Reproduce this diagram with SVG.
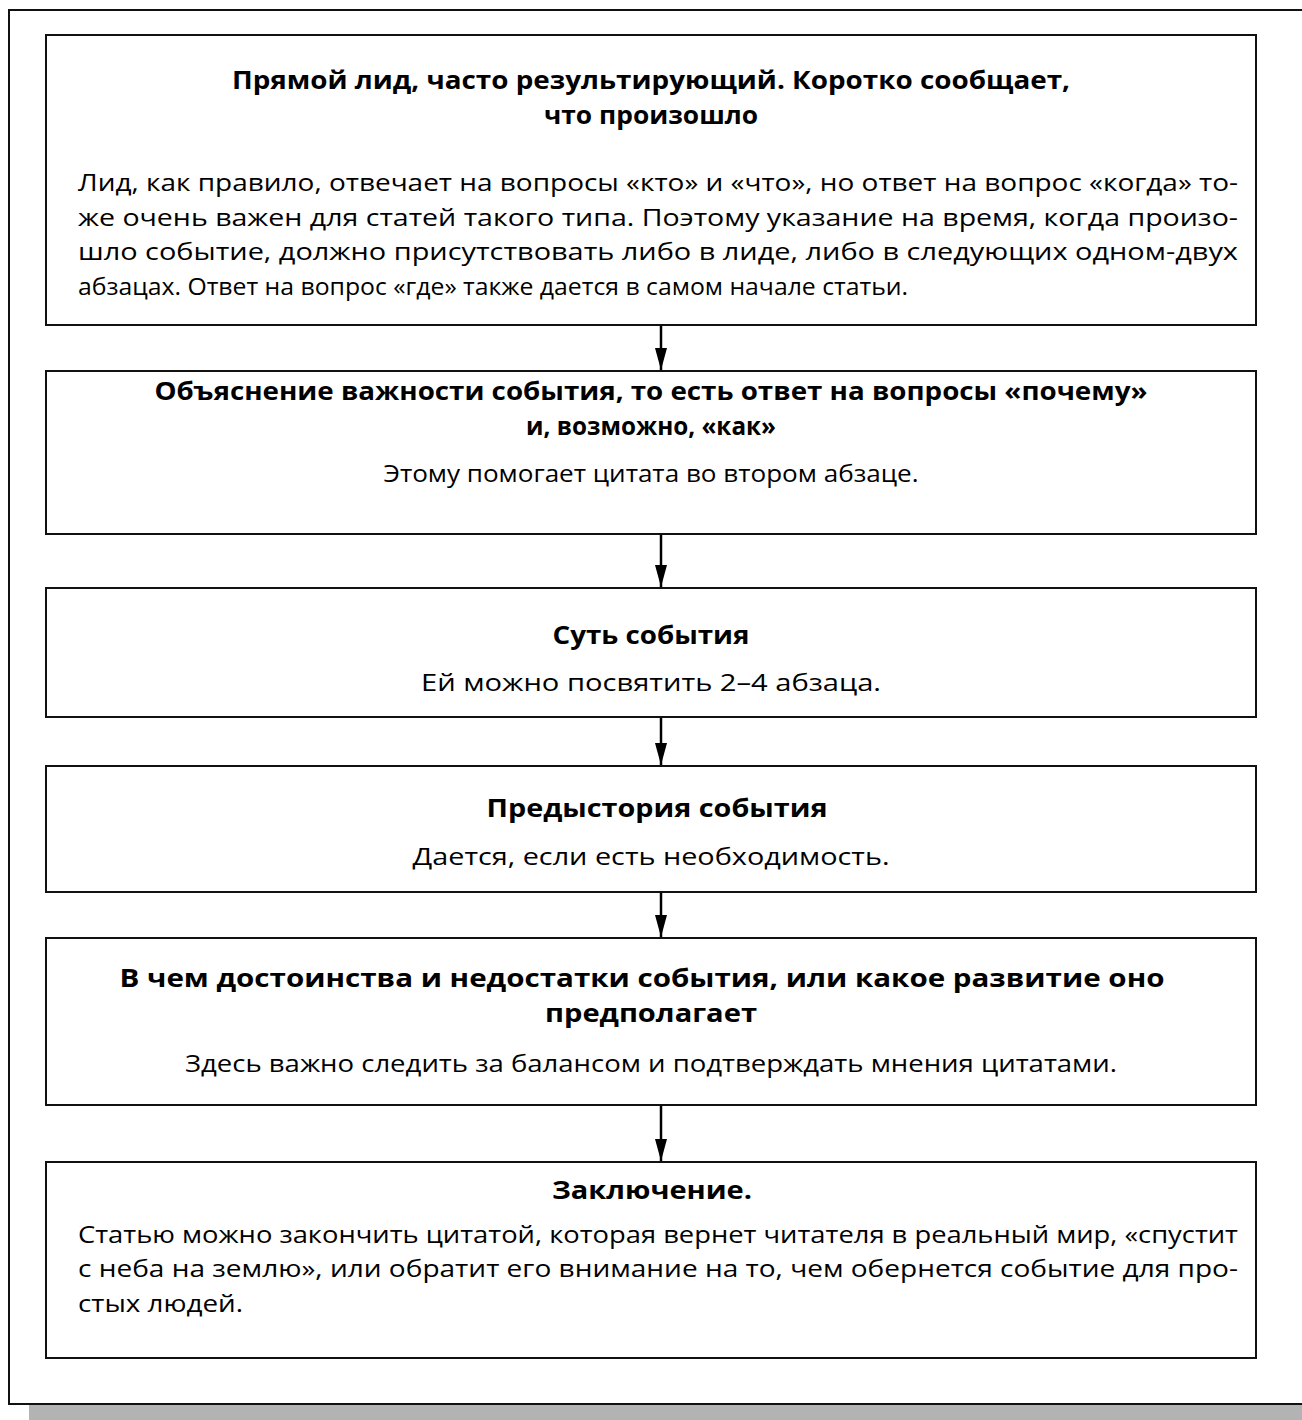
<svg xmlns="http://www.w3.org/2000/svg" width="1302" height="1420" viewBox="0 0 1302 1420">
<defs>
<style>
.box{fill:#fff;stroke:#111;stroke-width:2}
.t{font-family:"Open Sans","Liberation Sans",sans-serif;font-weight:bold;font-size:25px;fill:#000;text-anchor:middle}
.b{font-family:"Open Sans","Liberation Sans",sans-serif;font-size:24px;fill:#000}
.c{text-anchor:middle}
.conn{stroke:#000;stroke-width:2.5;fill:none}
</style>
<marker id="ah" viewBox="0 0 22 14" refX="22" refY="7" markerWidth="22" markerHeight="14" markerUnits="userSpaceOnUse" orient="auto">
<path d="M0,1 L22,7 L0,13 Z" fill="#000"/>
</marker>
</defs>
<rect x="0" y="0" width="1302" height="1420" fill="#fff"/>
<rect x="29" y="1405" width="1280" height="20" fill="#b3b3b3"/>
<rect x="9" y="10" width="1300" height="1394" fill="#fff" stroke="#111" stroke-width="2"/>
<g id="n1">
<rect class="box" x="46" y="35" width="1210" height="290"/>
<text class="t" x="651" y="89" textLength="838" lengthAdjust="spacingAndGlyphs">Прямой лид, часто результирующий. Коротко сообщает,</text>
<text class="t" x="651" y="124" textLength="214" lengthAdjust="spacingAndGlyphs">что произошло</text>
<text class="b" x="78" y="191" textLength="1160" lengthAdjust="spacingAndGlyphs">Лид, как правило, отвечает на вопросы «кто» и «что», но ответ на вопрос «когда» то-</text>
<text class="b" x="78" y="226" textLength="1160" lengthAdjust="spacingAndGlyphs">же очень важен для статей такого типа. Поэтому указание на время, когда произо-</text>
<text class="b" x="78" y="260" textLength="1160" lengthAdjust="spacingAndGlyphs">шло событие, должно присутствовать либо в лиде, либо в следующих одном-двух</text>
<text class="b" x="78" y="295" textLength="830" lengthAdjust="spacingAndGlyphs">абзацах. Ответ на вопрос «где» также дается в самом начале статьи.</text>
</g>
<g id="n2">
<rect class="box" x="46" y="371" width="1210" height="163"/>
<text class="t" x="651" y="400" textLength="993" lengthAdjust="spacingAndGlyphs">Объяснение важности события, то есть ответ на вопросы «почему»</text>
<text class="t" x="651" y="435" textLength="250" lengthAdjust="spacingAndGlyphs">и, возможно, «как»</text>
<text class="b c" x="651" y="482" textLength="535" lengthAdjust="spacingAndGlyphs">Этому помогает цитата во втором абзаце.</text>
</g>
<g id="n3">
<rect class="box" x="46" y="588" width="1210" height="129"/>
<text class="t" x="651" y="644" textLength="197" lengthAdjust="spacingAndGlyphs">Суть события</text>
<text class="b c" x="651" y="691" textLength="460" lengthAdjust="spacingAndGlyphs">Ей можно посвятить 2–4 абзаца.</text>
</g>
<g id="n4">
<rect class="box" x="46" y="766" width="1210" height="126"/>
<text class="t" x="657" y="817" textLength="341" lengthAdjust="spacingAndGlyphs">Предыстория события</text>
<text class="b c" x="651" y="865" textLength="477" lengthAdjust="spacingAndGlyphs">Дается, если есть необходимость.</text>
</g>
<g id="n5">
<rect class="box" x="46" y="938" width="1210" height="167"/>
<text class="t" x="642" y="987" textLength="1045" lengthAdjust="spacingAndGlyphs">В чем достоинства и недостатки события, или какое развитие оно</text>
<text class="t" x="651" y="1022" textLength="212" lengthAdjust="spacingAndGlyphs">предполагает</text>
<text class="b c" x="651" y="1072" textLength="932" lengthAdjust="spacingAndGlyphs">Здесь важно следить за балансом и подтверждать мнения цитатами.</text>
</g>
<g id="n6">
<rect class="box" x="46" y="1162" width="1210" height="196"/>
<text class="t" x="652" y="1199" textLength="200" lengthAdjust="spacingAndGlyphs">Заключение.</text>
<text class="b" x="78" y="1243" textLength="1160" lengthAdjust="spacingAndGlyphs">Статью можно закончить цитатой, которая вернет читателя в реальный мир, «спустит</text>
<text class="b" x="78" y="1277" textLength="1160" lengthAdjust="spacingAndGlyphs">с неба на землю», или обратит его внимание на то, чем обернется событие для про-</text>
<text class="b" x="78" y="1312" textLength="165" lengthAdjust="spacingAndGlyphs">стых людей.</text>
</g>
<g id="connectors">
<line class="conn" x1="661" y1="326" x2="661" y2="370" marker-end="url(#ah)"/>
<line class="conn" x1="661" y1="535" x2="661" y2="587" marker-end="url(#ah)"/>
<line class="conn" x1="661" y1="718" x2="661" y2="765" marker-end="url(#ah)"/>
<line class="conn" x1="661" y1="893" x2="661" y2="937" marker-end="url(#ah)"/>
<line class="conn" x1="661" y1="1106" x2="661" y2="1161" marker-end="url(#ah)"/>
</g>
</svg>
